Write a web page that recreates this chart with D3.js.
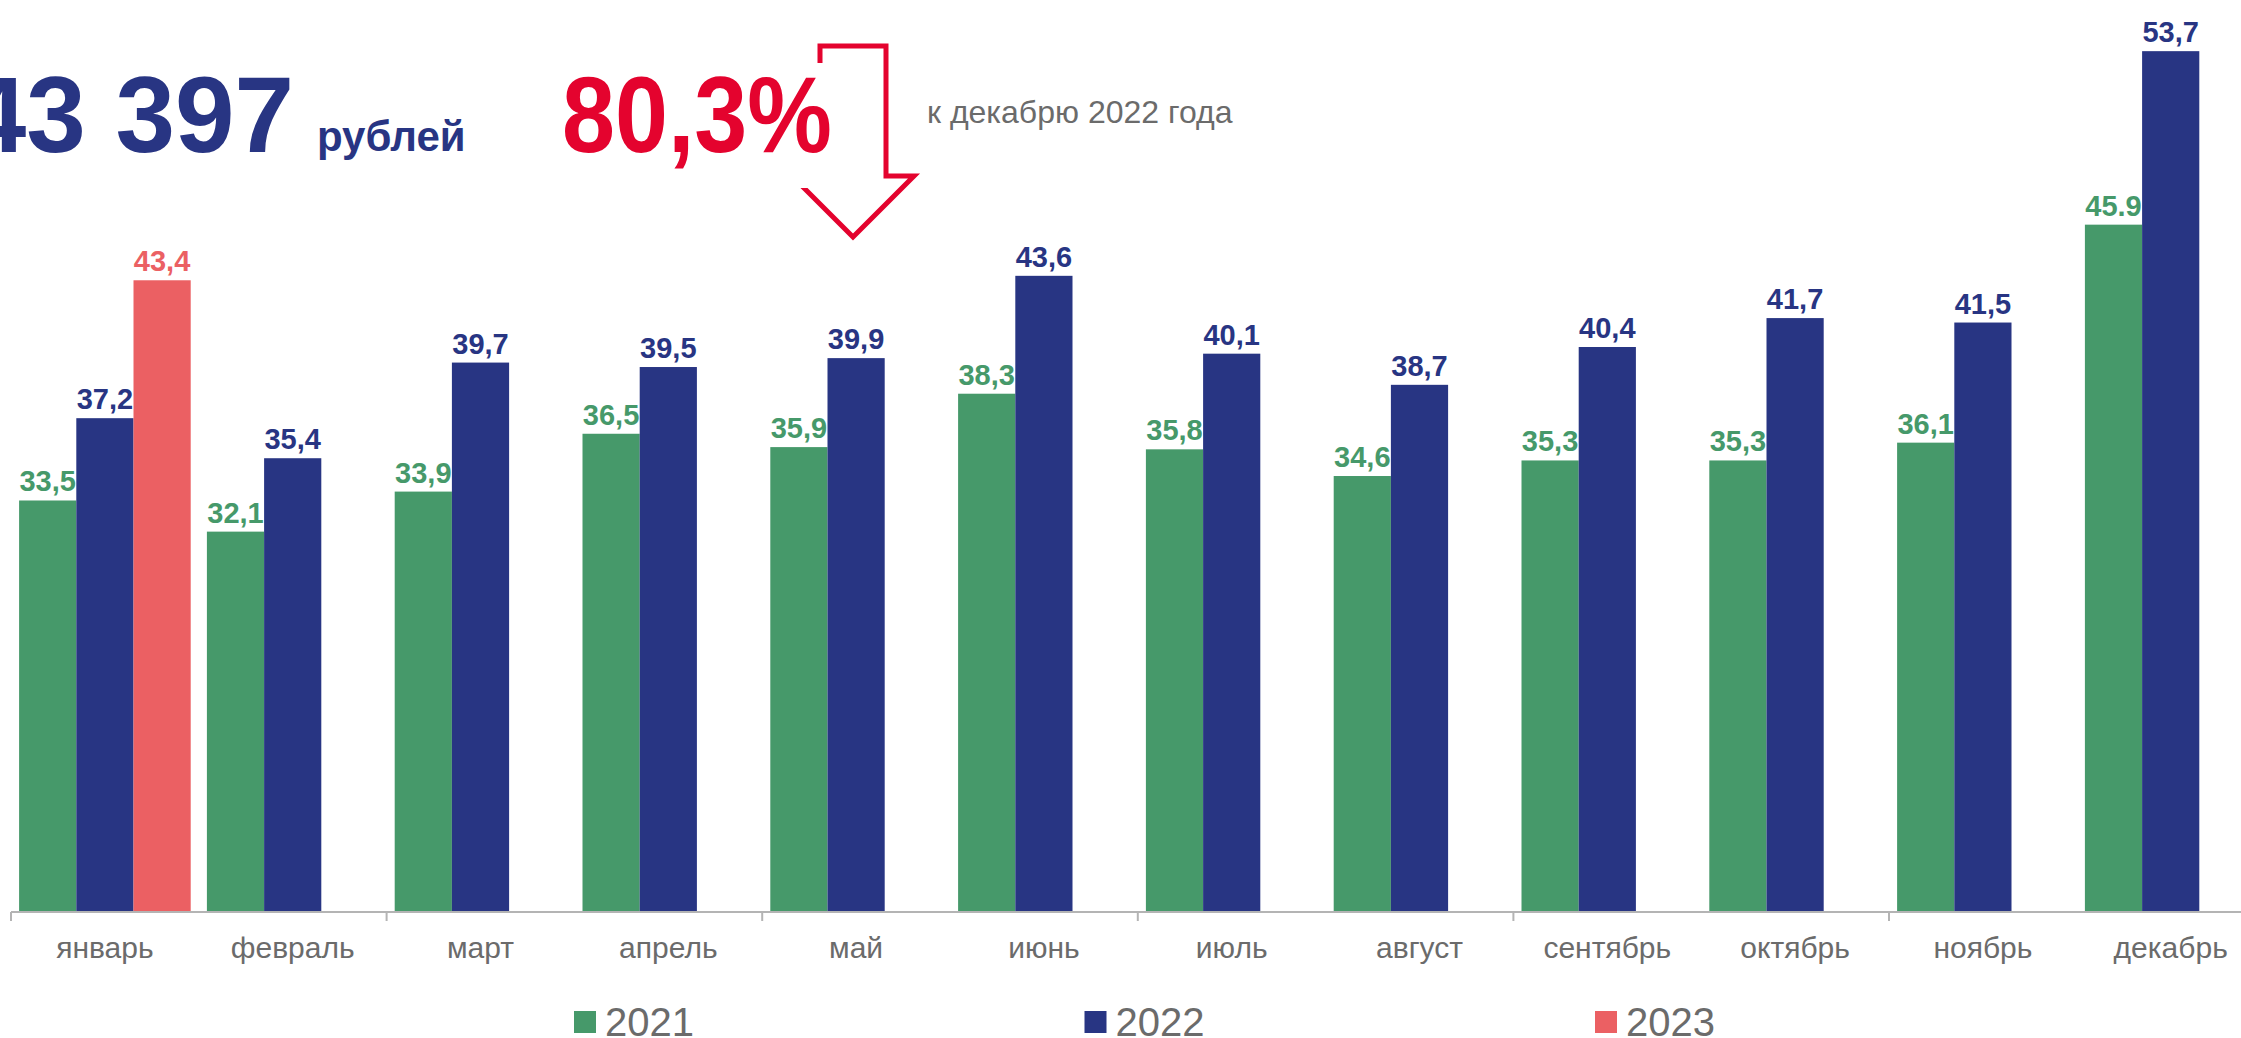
<!DOCTYPE html>
<html>
<head>
<meta charset="utf-8">
<script src="https://cdn.jsdelivr.net/npm/d3@7"></script>
<style>
  body { margin: 0; background: #fff; }
  text { font-family: "Liberation Sans", Arial, sans-serif; }
</style>
</head>
<body>
<div id="chart"></div>
<script>
let months = ['январь', 'февраль', 'март', 'апрель', 'май', 'июнь',
              'июль', 'август', 'сентябрь', 'октябрь', 'ноябрь', 'декабрь'];
let years = ['2021', '2022', '2023'];

let values2021 = [33.5, 32.1, 33.9, 36.5, 35.9, 38.3, 35.8, 34.6, 35.3, 35.3, 36.1, 45.9];
let values2022 = [37.2, 35.4, 39.7, 39.5, 39.9, 43.6, 40.1, 38.7, 40.4, 41.7, 41.5, 53.7];
let values2023 = [43.4];

// the source writes this one label with a point instead of a comma
let pointLabels = [{ year: '2021', month: 'декабрь' }];

let yDomain = [15, 56];

let colors = { '2021': '#46996a', '2022': '#283583', '2023': '#eb6063' };
let darkBlue = '#283583';
let titleRed = '#e4032e';
let grey = '#6b6b6b';

let width = 2241;
let height = 1038;

let bars = [];
[values2021, values2022, values2023].forEach(function(arr, s) {
    arr.forEach(function(v, i) {
        bars.push({ year: years[s], month: months[i], value: v });
    });
});

function label(d) {
    let usePoint = pointLabels.some(p => p.year == d.year && p.month == d.month);
    let txt = d.value.toFixed(1);
    return usePoint ? txt : txt.replace('.', ',');
}

let svg = d3.select('#chart').append('svg')
            .attr('width', width)
            .attr('height', height);

let x = d3.scaleBand()
          .domain(months)
          .range([11, 11 + 12 * 187.8])
          .padding(0);

let xInner = d3.scaleBand()
               .domain(years)
               .range([0, x.bandwidth()])
               .paddingInner(0)
               .paddingOuter(0.1416);

let y = d3.scaleLinear()
          .domain(yDomain)
          .range([912, 0]);

// header
svg.append('text')
    .attr('x', 294)
    .attr('y', 152)
    .attr('text-anchor', 'end')
    .attr('font-size', 107)
    .attr('font-weight', 'bold')
    .attr('fill', darkBlue)
    .text('43 397');

svg.append('text')
    .attr('x', 317)
    .attr('y', 151)
    .attr('font-size', 42)
    .attr('font-weight', 'bold')
    .attr('fill', darkBlue)
    .text('рублей');

// arrow outline, partly covered by the white box of the percent text
let arrowPts = [[820, 46], [886, 46], [886, 176], [914, 176], [853, 237], [792, 176], [820, 176]];
svg.append('path')
    .attr('d', 'M' + arrowPts.map(p => p.join(',')).join('L') + 'Z')
    .attr('fill', 'none')
    .attr('stroke', titleRed)
    .attr('stroke-width', 5);

svg.append('rect')
    .attr('x', 540)
    .attr('y', 63)
    .attr('width', 284)
    .attr('height', 125)
    .attr('fill', '#fff');

svg.append('text')
    .attr('x', 562)
    .attr('y', 152)
    .attr('font-size', 107)
    .attr('font-weight', 'bold')
    .attr('fill', titleRed)
    .attr('textLength', 270)
    .attr('lengthAdjust', 'spacingAndGlyphs')
    .text('80,3%');

svg.append('text')
    .attr('x', 927)
    .attr('y', 123)
    .attr('font-size', 32)
    .attr('fill', grey)
    .text('к декабрю 2022 года');

// bars
svg.append('g')
    .selectAll('rect')
    .data(bars)
    .join('rect')
    .attr('x', d => x(d.month) + xInner(d.year))
    .attr('y', d => y(d.value))
    .attr('width', xInner.bandwidth())
    .attr('height', d => y(yDomain[0]) - y(d.value))
    .attr('fill', d => colors[d.year]);

svg.append('g')
    .selectAll('text')
    .data(bars)
    .join('text')
    .attr('x', d => x(d.month) + xInner(d.year) + xInner.bandwidth() / 2)
    .attr('y', d => y(d.value) - 9)
    .attr('text-anchor', 'middle')
    .attr('font-size', 29)
    .attr('font-weight', 'bold')
    .attr('fill', d => colors[d.year])
    .text(label);

// x axis: line to the right edge, ticks every two months
let axisY = y(yDomain[0]);
svg.append('line')
    .attr('x1', x.range()[0])
    .attr('x2', width)
    .attr('y1', axisY)
    .attr('y2', axisY)
    .attr('stroke', '#b4b4b4')
    .attr('stroke-width', 2);

let tickX = d3.range(0, months.length + 1, 2).map(i => x.range()[0] + i * x.step());
svg.append('g')
    .selectAll('line')
    .data(tickX)
    .join('line')
    .attr('x1', d => d)
    .attr('x2', d => d)
    .attr('y1', axisY)
    .attr('y2', axisY + 9)
    .attr('stroke', '#b4b4b4')
    .attr('stroke-width', 2);

svg.append('g')
    .selectAll('text')
    .data(months)
    .join('text')
    .attr('x', d => x(d) + x.bandwidth() / 2)
    .attr('y', 958)
    .attr('text-anchor', 'middle')
    .attr('font-size', 30)
    .attr('fill', grey)
    .text(d => d);

// legend
let legendX = d3.scalePoint().domain(years).range([574, 1595]);
let legend = svg.append('g')
    .selectAll('g')
    .data(years)
    .join('g')
    .attr('transform', d => 'translate(' + legendX(d) + ',0)');

legend.append('rect')
    .attr('x', 0)
    .attr('y', 1011)
    .attr('width', 22)
    .attr('height', 22)
    .attr('fill', d => colors[d]);

legend.append('text')
    .attr('x', 31)
    .attr('y', 1036)
    .attr('font-size', 40)
    .attr('fill', grey)
    .text(d => d);
</script>
</body>
</html>
